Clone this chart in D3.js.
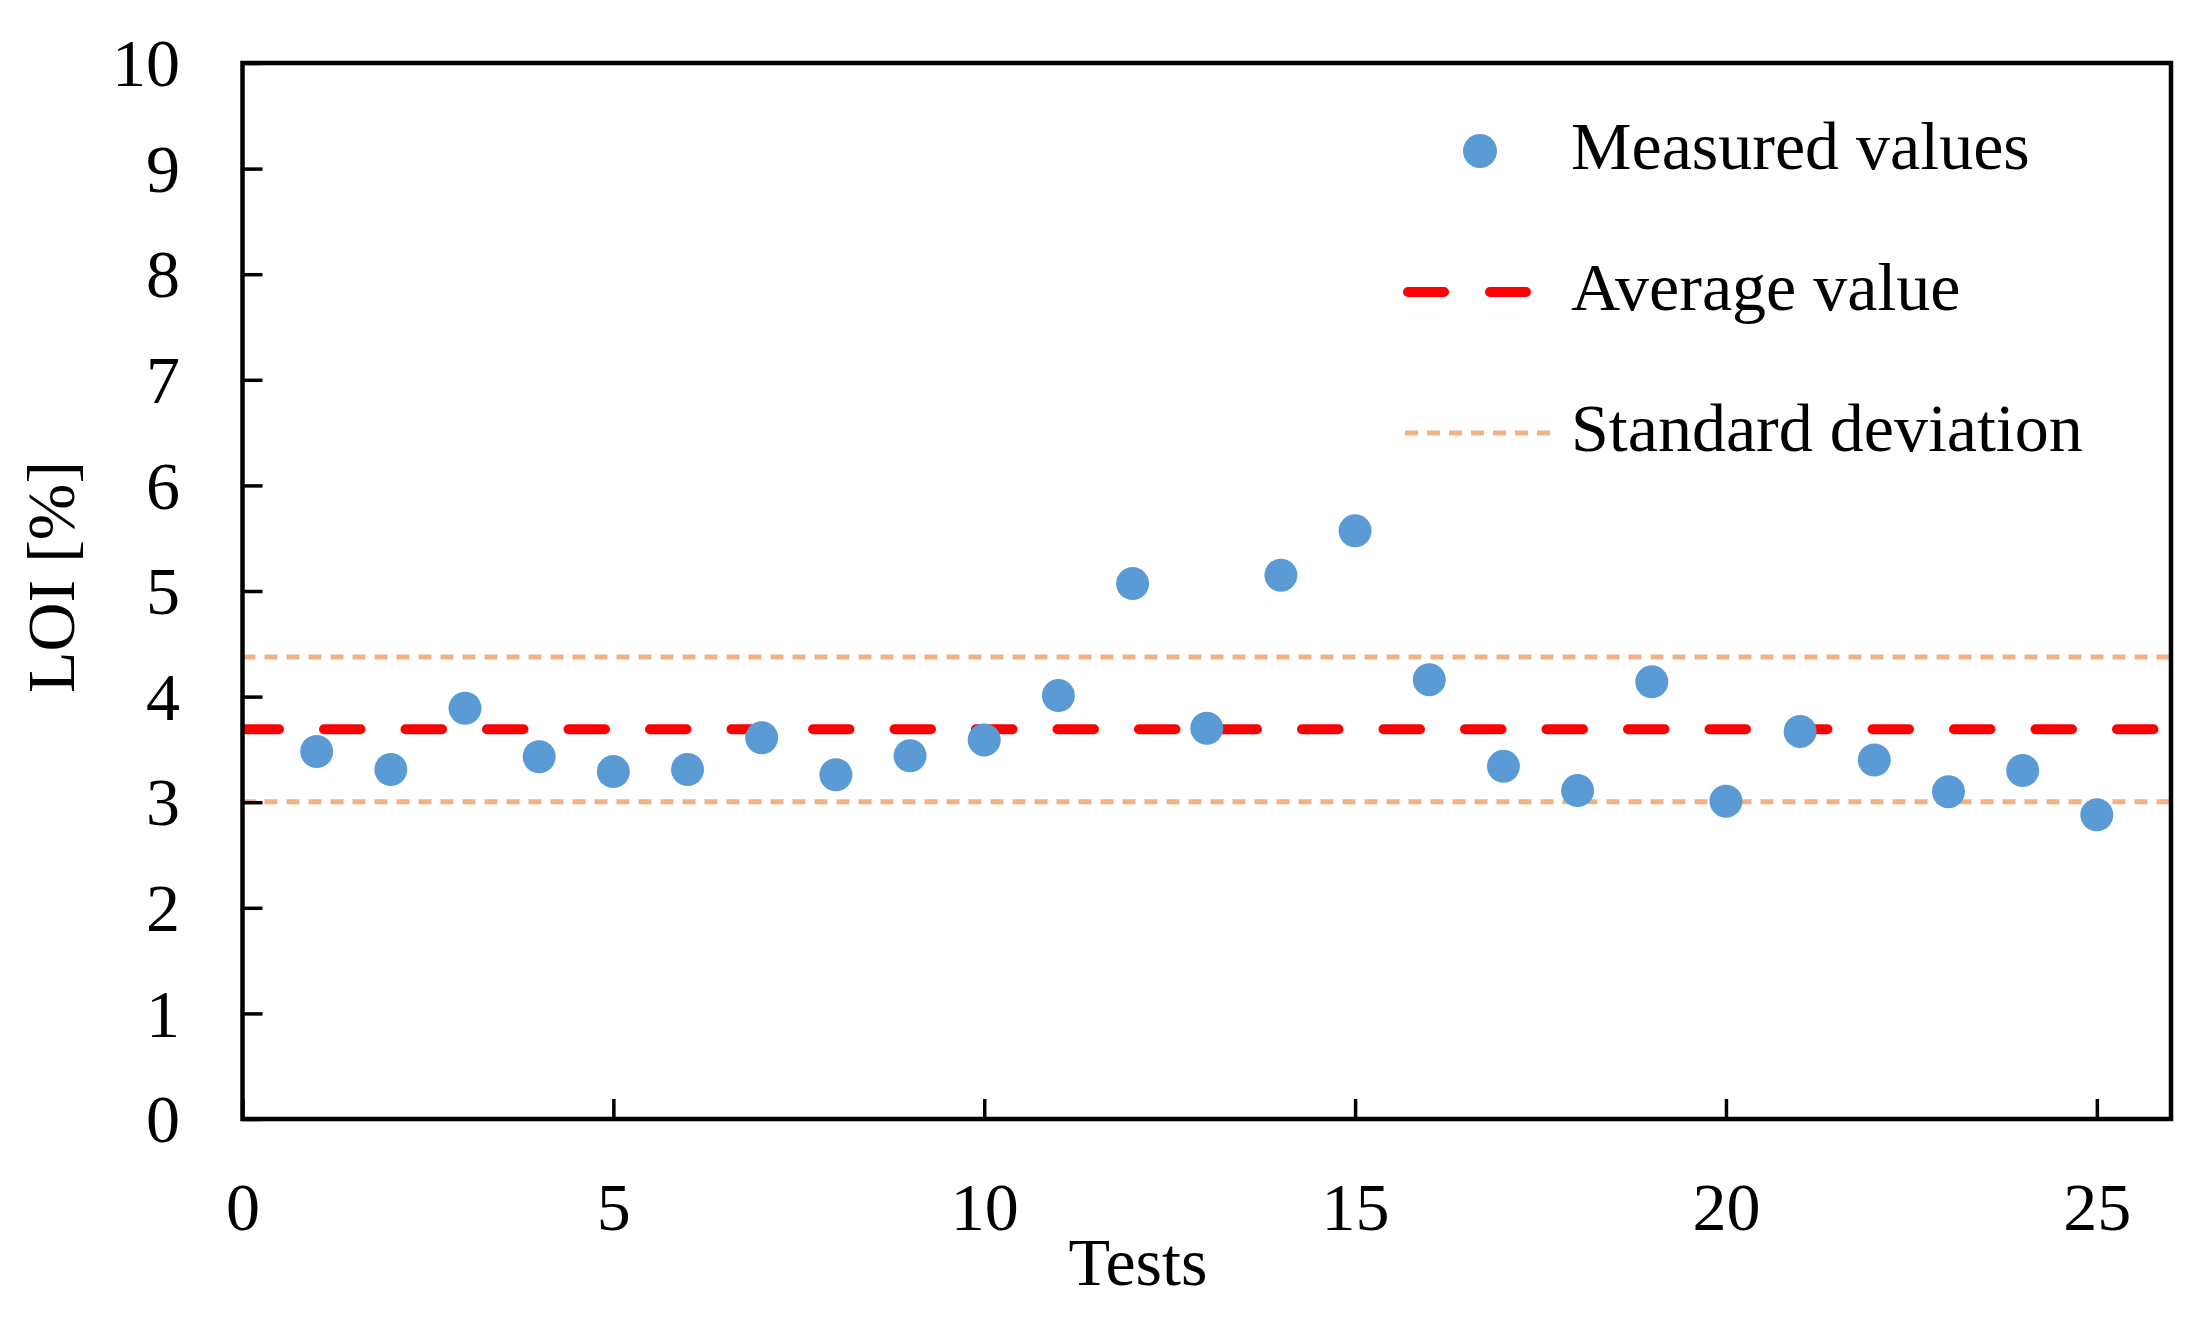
<!DOCTYPE html>
<html>
<head>
<meta charset="utf-8">
<script src="https://cdn.jsdelivr.net/npm/d3@7"></script>
<style>
  html, body { margin: 0; padding: 0; background: #fff; }
  svg { display: block; }
  text { font-family: "Liberation Serif", "Times New Roman", serif; fill: #000; }
</style>
</head>
<body>
<div id="chart"></div>
<script>
// ---- data ----
const tests = [1,2,3,4,5,6,7,8,9,10,11,12,13,14,15,16,17,18,19,20,21,22,23,24,25];
const loiValues = [3.48,3.31,3.89,3.43,3.29,3.31,3.61,3.26,3.44,3.59,4.01,5.07,3.70,5.15,5.57,4.16,3.34,3.11,4.14,3.01,3.67,3.40,3.10,3.30,2.88];
const averageValue = 3.69;
const stdBounds = [3.005, 4.375];
const xTicks = [0,5,10,15,20,25];
const yTicks = [0,1,2,3,4,5,6,7,8,9,10];
const legendLabels = ["Measured values", "Average value", "Standard deviation"];
const xLabel = "Tests";
const yLabel = "LOI [%]";

// ---- layout ----
const W = 2196, H = 1328;
const plot = { left: 242.5, right: 2171, top: 63, bottom: 1119 };
const FS = 68;
const colors = { point: "#5B9BD5", avg: "#FF0000", std: "#F4B183" };

const svg = d3.select("#chart").append("svg").attr("width", W).attr("height", H);

const x = d3.scaleLinear().domain([0, 26]).range([plot.left, plot.right]);
const y = d3.scaleLinear().domain([0, 10]).range([plot.bottom, plot.top]);

svg.append("defs").append("clipPath").attr("id", "clip")
  .append("rect").attr("x", plot.left).attr("y", plot.top)
  .attr("width", plot.right - plot.left).attr("height", plot.bottom - plot.top);

const g = svg.append("g").attr("clip-path", "url(#clip)");

// std lines
g.selectAll("line.std").data(stdBounds).enter().append("line")
  .attr("class", "std")
  .attr("x1", plot.left).attr("x2", plot.right)
  .attr("y1", d => y(d)).attr("y2", d => y(d))
  .attr("stroke", colors.std).attr("stroke-width", 5)
  .attr("stroke-dasharray", "13,9");

// average line
g.append("line")
  .attr("x1", plot.left).attr("x2", plot.right + 40)
  .attr("y1", y(averageValue)).attr("y2", y(averageValue))
  .attr("stroke", colors.avg).attr("stroke-width", 10)
  .attr("stroke-linecap", "round")
  .attr("stroke-dasharray", "36.5,45");

// points
g.selectAll("circle.pt").data(tests.map((t, i) => [t, loiValues[i]])).enter()
  .append("circle").attr("class", "pt")
  .attr("cx", d => x(d[0])).attr("cy", d => y(d[1]))
  .attr("r", 16.5).attr("fill", colors.point);

// axes
const yAxis = d3.axisLeft(y).tickValues(yTicks).tickSize(-20).tickPadding(0).tickFormat(d3.format("d"));
const xAxis = d3.axisBottom(x).tickValues(xTicks).tickSize(-20).tickPadding(0).tickFormat(d3.format("d"));

const gy = svg.append("g").attr("transform", `translate(${plot.left},0)`).call(yAxis);
gy.select(".domain").remove();
gy.selectAll(".tick line").attr("stroke", "#000").attr("stroke-width", 3.5);
gy.selectAll(".tick text")
  .attr("x", 180 - plot.left).attr("dy", "0.335em")
  .attr("text-anchor", "end")
  .style("font-family", '"Liberation Serif", "Times New Roman", serif')
  .style("font-size", FS + "px").attr("fill", "#000");

const gx = svg.append("g").attr("transform", `translate(0,${plot.bottom})`).call(xAxis);
gx.select(".domain").remove();
gx.selectAll(".tick line").attr("stroke", "#000").attr("stroke-width", 3.5);
gx.selectAll(".tick text")
  .attr("y", 1230 - plot.bottom).attr("dy", 0)
  .style("font-family", '"Liberation Serif", "Times New Roman", serif')
  .style("font-size", FS + "px").attr("fill", "#000");

// frame
svg.append("rect")
  .attr("x", plot.left).attr("y", plot.top)
  .attr("width", plot.right - plot.left).attr("height", plot.bottom - plot.top)
  .attr("fill", "none").attr("stroke", "#000").attr("stroke-width", 4.5);

// axis titles
svg.append("text").attr("x", 1138).attr("y", 1285)
  .attr("text-anchor", "middle").style("font-size", FS + "px").text(xLabel);
svg.append("text")
  .attr("transform", "translate(74,577) rotate(-90)")
  .attr("text-anchor", "middle").style("font-size", FS + "px").text(yLabel);

// legend
const leg = svg.append("g");
const rowY = [151, 292, 433];
const textX = 1571;
leg.append("circle").attr("cx", 1480).attr("cy", rowY[0]).attr("r", 17).attr("fill", colors.point);
leg.append("line").attr("x1", 1408).attr("x2", 1530).attr("y1", rowY[1]).attr("y2", rowY[1])
  .attr("stroke", colors.avg).attr("stroke-width", 10).attr("stroke-linecap", "round")
  .attr("stroke-dasharray", "36,46");
leg.append("line").attr("x1", 1405).attr("x2", 1552).attr("y1", rowY[2]).attr("y2", rowY[2])
  .attr("stroke", colors.std).attr("stroke-width", 5).attr("stroke-dasharray", "13,9");
leg.selectAll("text").data(legendLabels).enter().append("text")
  .attr("x", textX).attr("y", (d, i) => rowY[i] + 18)
  .style("font-size", FS + "px").text(d => d);
</script>
</body>
</html>
